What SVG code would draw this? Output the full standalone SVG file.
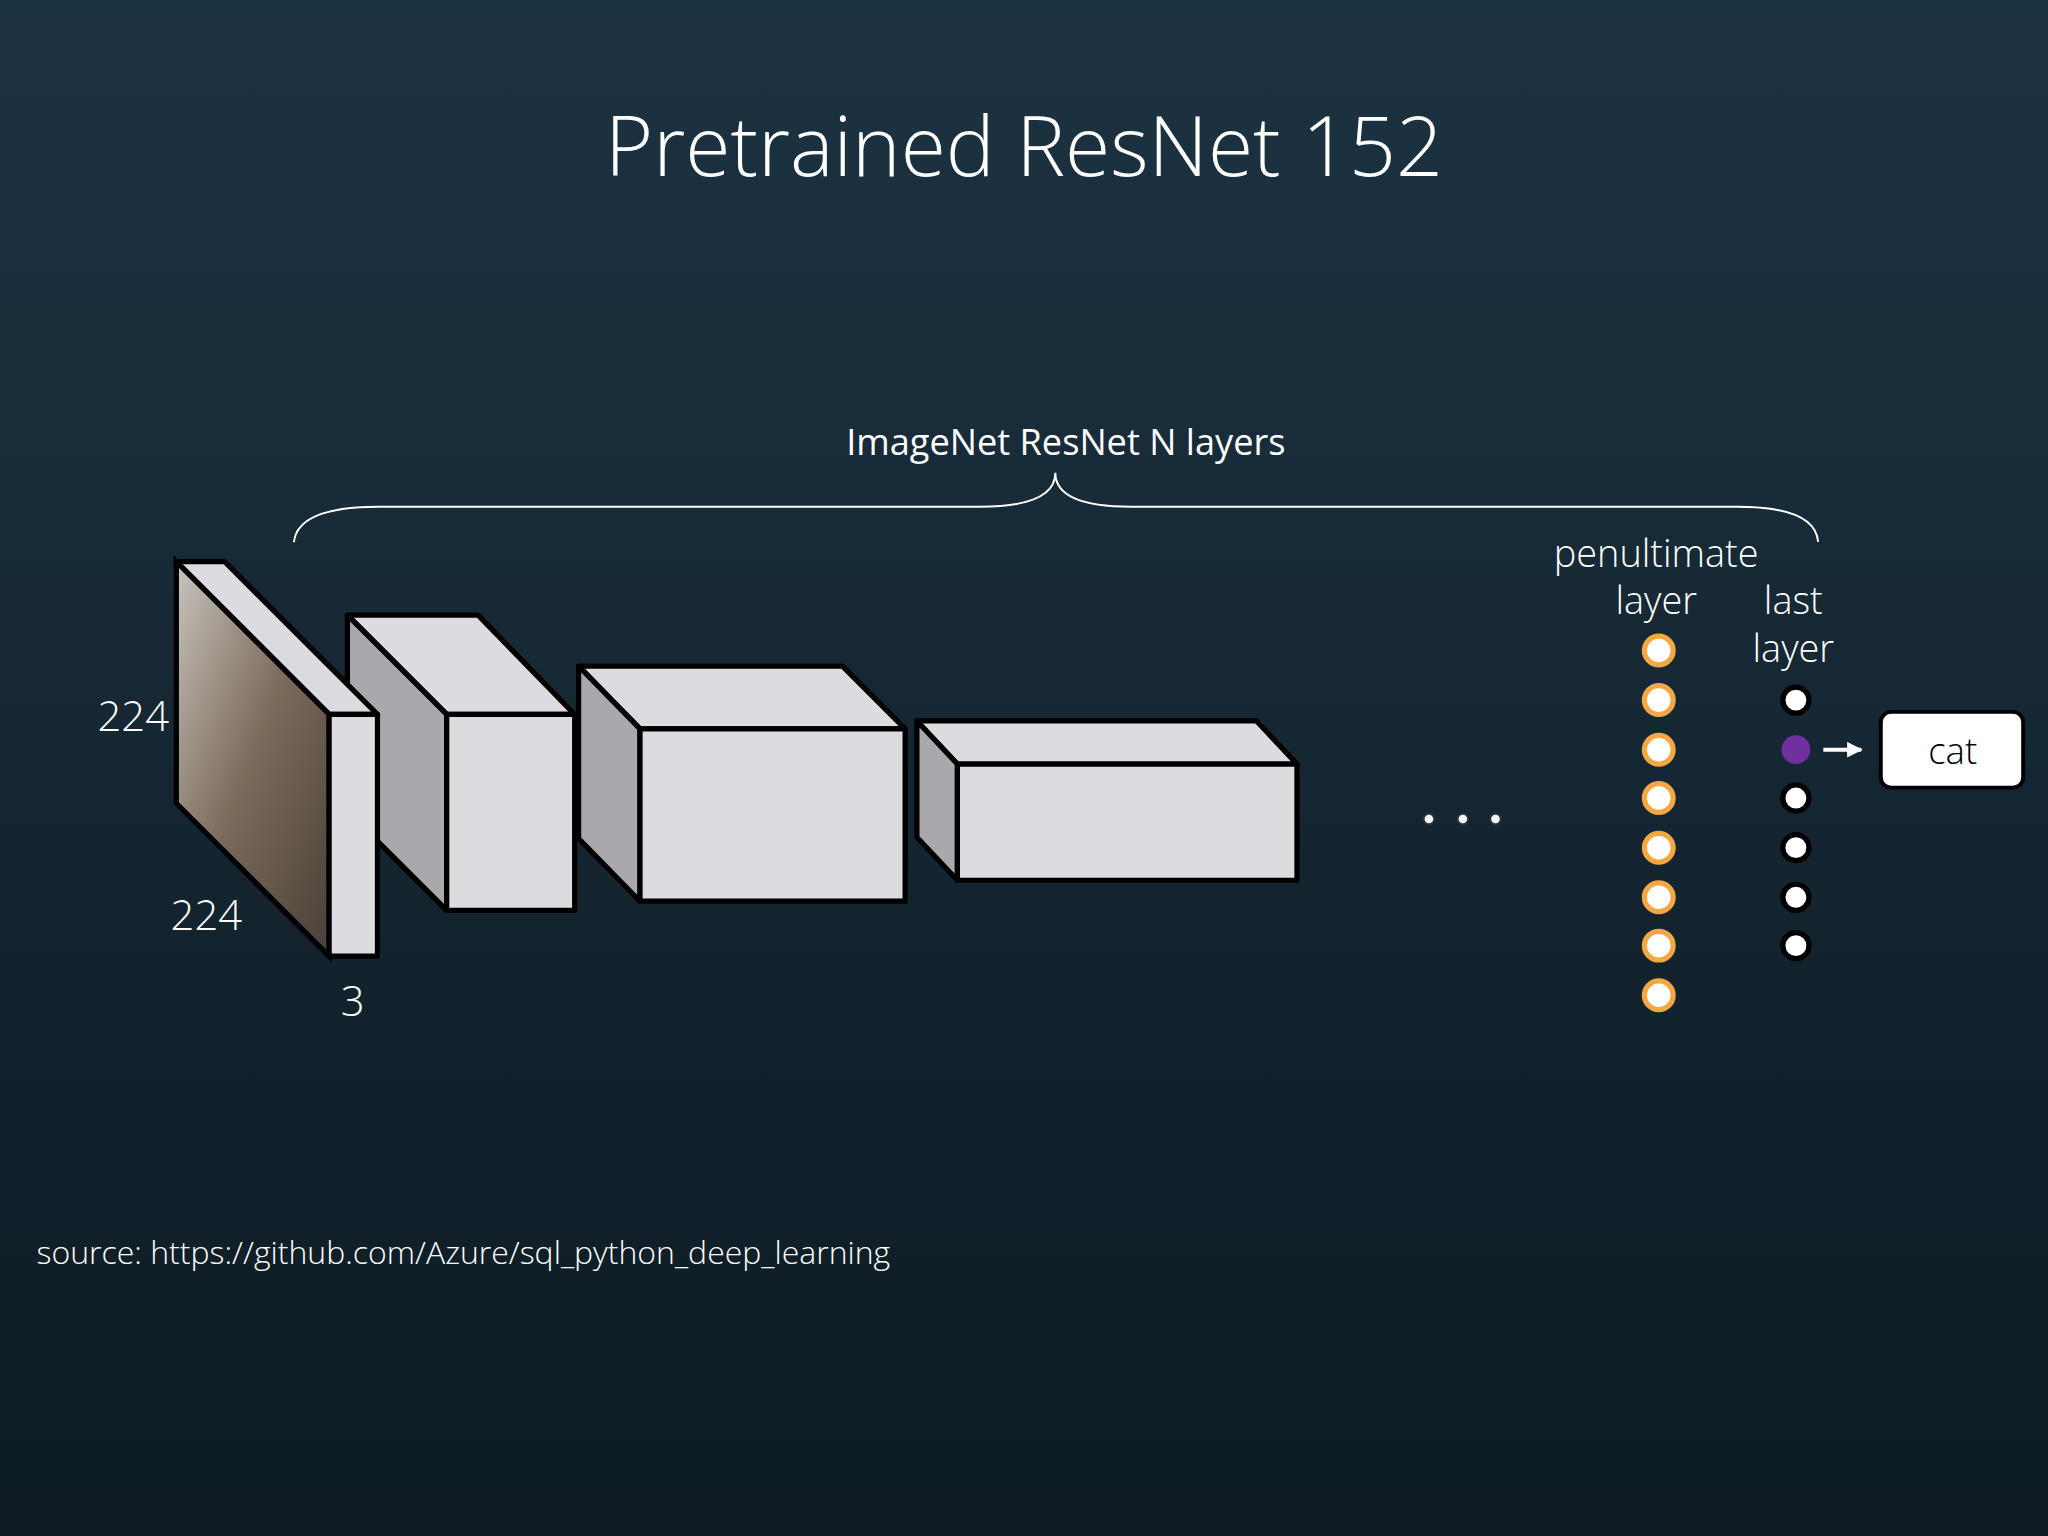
<svg xmlns="http://www.w3.org/2000/svg" width="2048" height="1536" viewBox="0 0 2048 1536">
<defs>
<linearGradient id="bg" x1="0" y1="0" x2="0" y2="1"><stop offset="0" stop-color="#1c3342"/><stop offset="1" stop-color="#0d1a22"/></linearGradient>
<linearGradient id="cat" x1="0" y1="0" x2="1" y2="1"><stop offset="0" stop-color="#c8c4be"/><stop offset="0.5" stop-color="#7a6a5a"/><stop offset="1" stop-color="#4a4038"/></linearGradient>
<marker id="ah" viewBox="0 0 10 10" refX="9" refY="5" markerWidth="4" markerHeight="4" orient="auto"><path d="M0,0L10,5L0,10z" fill="#fff"/></marker>
<style>
text{font-family:"Open Sans","Liberation Sans",sans-serif;font-weight:300;fill:#fff}
.f{fill:#dcdbe0;stroke:#000;stroke-width:4;stroke-linejoin:round}
.s{fill:#a9a8ad;stroke:#000;stroke-width:4;stroke-linejoin:round}
.o{fill:#fff;stroke:#f4a742;stroke-width:4}
.k{fill:#fff;stroke:#000;stroke-width:4}
</style>
</defs>
<rect width="2048" height="1536" fill="url(#bg)"/>
<g transform="scale(1.30612)">
<text x="784" y="135" font-size="63" text-anchor="middle">Pretrained ResNet 152</text>
<text x="816" y="348" font-size="27.7" text-anchor="middle" style="font-weight:400">ImageNet ResNet N layers</text>
<g id="connectors">
<path d="M225,415 Q228,388 290,388 L750,388 Q808,388 808,362 Q808,388 866,388 L1330,388 Q1390,388 1392,415" fill="none" stroke="#fff" stroke-width="1.5"/>
<line x1="1396" y1="574" x2="1425" y2="574" stroke="#fff" stroke-width="3" marker-end="url(#ah)"/>
</g>
<g id="block2">
<polygon class="f" points="266,471 366,471 440,547 342,547"/>
<polygon class="s" points="266,471 342,547 342,697 266,621"/>
<rect class="f" x="342" y="547" width="98" height="150"/>
</g>
<g id="block1">
<polygon class="f" points="135,430 172,430 289,547 252,547"/>
<polygon points="135,430 252,547 252,732 135,615" fill="url(#cat)" stroke="#000" stroke-width="4"/>
<rect class="f" x="252" y="547" width="37" height="185"/>
</g>
<g id="block3">
<polygon class="f" points="443,510 645,510 693,558 490,558"/>
<polygon class="s" points="443,510 490,558 490,690 443,642"/>
<rect class="f" x="490" y="558" width="203" height="132"/>
</g>
<g id="block4">
<polygon class="f" points="702,552 962,552 993,585 733,585"/>
<polygon class="s" points="702,552 733,585 733,674 702,641"/>
<rect class="f" x="733" y="585" width="260" height="89"/>
</g>
<text x="102" y="560" font-size="32" text-anchor="middle">224</text>
<text x="158" y="712" font-size="32" text-anchor="middle">224</text>
<text x="270" y="778" font-size="32" text-anchor="middle">3</text>
<g id="dots" fill="#fff" stroke="#333" stroke-width="1.5">
<circle cx="1094" cy="627" r="4"/><circle cx="1120" cy="627" r="4"/><circle cx="1145" cy="627" r="4"/>
</g>
<text x="1268" y="434" font-size="29" text-anchor="middle">penultimate</text>
<text x="1268" y="470" font-size="29" text-anchor="middle">layer</text>
<text x="1373" y="470" font-size="29" text-anchor="middle">last</text>
<text x="1373" y="507" font-size="29" text-anchor="middle">layer</text>
<g id="penultimate">
<circle class="o" cx="1270" cy="498" r="11"/><circle class="o" cx="1270" cy="536" r="11"/><circle class="o" cx="1270" cy="574" r="11"/><circle class="o" cx="1270" cy="611" r="11"/><circle class="o" cx="1270" cy="649" r="11"/><circle class="o" cx="1270" cy="687" r="11"/><circle class="o" cx="1270" cy="724" r="11"/><circle class="o" cx="1270" cy="762" r="11"/>
</g>
<g id="last">
<circle class="k" cx="1375" cy="536" r="10"/><circle cx="1375" cy="574" r="11" fill="#7030a0"/><circle class="k" cx="1375" cy="611" r="10"/><circle class="k" cx="1375" cy="649" r="10"/><circle class="k" cx="1375" cy="687" r="10"/><circle class="k" cx="1375" cy="724" r="10"/>
</g>
<g id="catbox">
<rect x="1440" y="545" width="109" height="58" rx="8" fill="#fff" stroke="#000" stroke-width="3"/>
<text x="1495" y="585" font-size="28" text-anchor="middle" style="fill:#000">cat</text>
</g>
<text x="28" y="968" font-size="24.5">source: https://github.com/Azure/sql_python_deep_learning</text>
</g>
</svg>
